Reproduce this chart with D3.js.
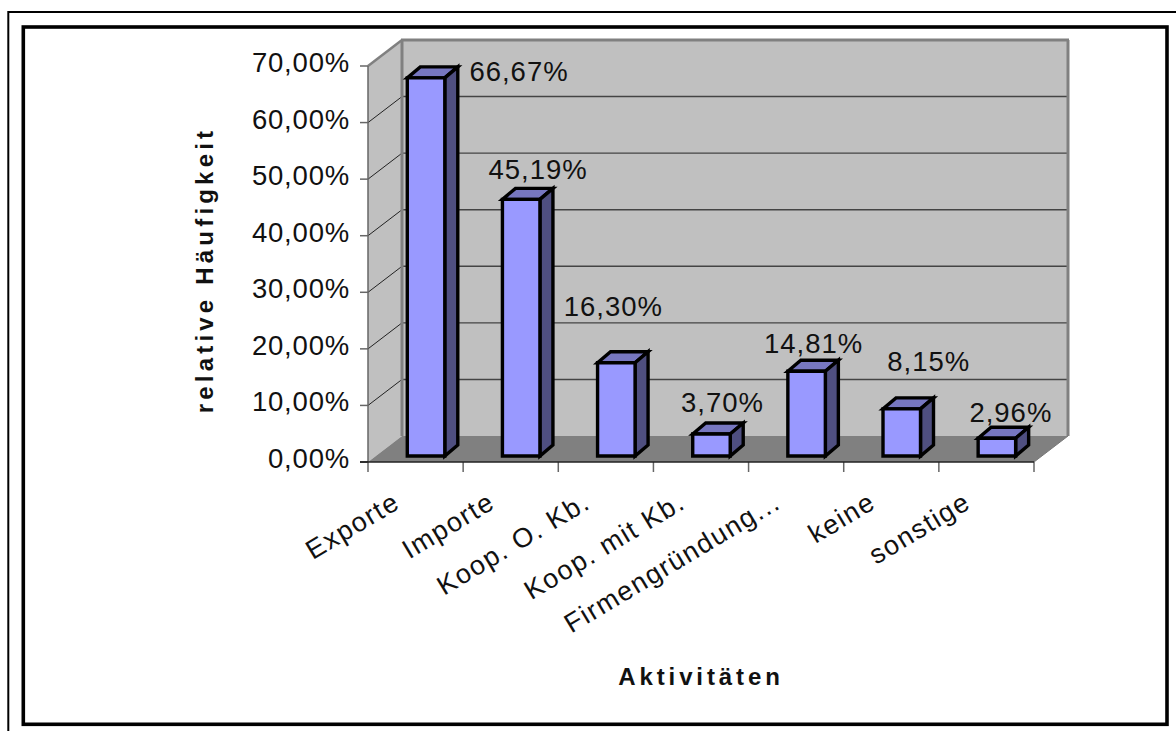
<!DOCTYPE html>
<html><head><meta charset="utf-8">
<script src="https://cdn.jsdelivr.net/npm/d3@7"></script>
<style>html,body{margin:0;background:#fff}svg{display:block}text{font-family:"Liberation Sans",Arial,sans-serif;fill:#111}</style>
</head><body><svg id="c" width="1176" height="731"></svg>
<script>
const categories=["Exporte","Importe","Koop. O. Kb.","Koop. mit Kb.","Firmengründung...","keine","sonstige"];
const values=[66.67,45.19,16.30,3.70,14.81,8.15,2.96];
const valueLabels=["66,67%","45,19%","16,30%","3,70%","14,81%","8,15%","2,96%"];
const yTicks=[0,10,20,30,40,50,60,70];
const yTickLabels=["0,00%","10,00%","20,00%","30,00%","40,00%","50,00%","60,00%","70,00%"];
const yTitle="relative Häufigkeit", xTitle="Aktivitäten";

const svg=d3.select("#c");
const L=368,R=1034,B=462,T=66,DX=34,DY=-26;
const x=d3.scaleBand().domain(categories).range([L,R]);
const y=d3.scaleLinear().domain([0,70]).range([B,T]);
const line=(a,b,c,d,col,w)=>svg.append("line").attr("x1",a).attr("y1",b).attr("x2",c).attr("y2",d).attr("stroke",col).attr("stroke-width",w);
const poly=(pts,fill,st,w)=>svg.append("polygon").attr("points",pts.map(p=>p.join(",")).join(" ")).attr("fill",fill).attr("stroke",st||"none").attr("stroke-width",w||0).attr("stroke-linejoin","miter");

// frames
line(8,12,1176,12,"#000",2); line(8.3,11,8.3,731,"#000",2);
svg.append("rect").attr("x",23.3).attr("y",27).attr("width",1143.7).attr("height",697.3).attr("fill","#fff").attr("stroke","#000").attr("stroke-width",3.6);

// walls
poly([[L,T],[L+DX,T+DY],[L+DX,B+DY],[L,B]],"#c0c0c0");
poly([[L+DX,T+DY],[R+DX,T+DY],[R+DX,B+DY],[L+DX,B+DY]],"#c0c0c0");
poly([[L,B],[L+DX,B+DY],[R+DX,B+DY],[R,B]],"#808080");
yTicks.forEach(v=>{ if(v>0&&v<70){
  line(L,y(v),L+DX,y(v)+DY,"#222",1);
  line(L+DX,y(v)+DY,R+DX,y(v)+DY,"#444",1.4);
}});
line(L+DX,T+DY,L+DX,B+DY,"#808080",3);
line(L+DX-1,T+DY,R+DX+1,T+DY,"#808080",3);
line(R+DX,T+DY,R+DX,B+DY,"#808080",3);
line(L,T,L+DX,T+DY,"#808080",2.5);
line(R,B,R+DX,B+DY,"#777",1);

// axes
line(L,T,L,B,"#666",1.5);
yTicks.forEach((v,i)=>{
  line(L-8,y(v),L,y(v),v===0?"#222":"#666",1.5);
  svg.append("text").attr("x",350).attr("y",y(v)+6).attr("text-anchor","end").attr("font-size",27.5).attr("letter-spacing",0.8).text(yTickLabels[i]);
});
const edges=[...categories.map(c=>x(c)),R];
edges.forEach(e=>line(e,B,e,B+10,"#666",1.5));
line(L-8,B,R,B,"#222",1.5);

// bars
const W=37.5,OX=x.bandwidth()*0.11,OY=-6,BX=13,BY=-11;
const lblDX=[93,17,-3,11,7,27,14];
const lblDY=[3,-20,-47,-22,-18,-38,-16];
categories.forEach((c,i)=>{
  const cx=x(c)+x.bandwidth()/2+OX, l=cx-W/2, r=cx+W/2, t=y(values[i])+OY-1, b=B+OY;
  poly([[l,t],[r,t],[r+BX,t+BY],[l+BX,t+BY]],"#7777c0","#000",3.4);
  poly([[r,t],[r+BX,t+BY],[r+BX,b+BY],[r,b]],"#4f4f80","#000",3.4);
  poly([[l,t],[r,t],[r,b],[l,b]],"#9999ff","#000",3.4);
  svg.append("text").attr("x",cx+lblDX[i]).attr("y",t+lblDY[i]).attr("text-anchor","middle")
    .attr("font-size",27.5).attr("letter-spacing",1).text(valueLabels[i]);
});

// category labels
categories.forEach(c=>{
  const px=x(c)+x.bandwidth()/2-14, py=B+45;
  svg.append("text").attr("transform",`translate(${px},${py}) rotate(-31)`).attr("text-anchor","end")
    .attr("font-size",27).attr("letter-spacing",1.5).text(c);
});

// titles
svg.append("text").attr("transform","translate(213,270) rotate(-90)").attr("text-anchor","middle").attr("font-size",24).attr("font-weight","bold").attr("letter-spacing",4.2).text(yTitle);
svg.append("text").attr("x",701).attr("y",685).attr("text-anchor","middle").attr("font-size",24).attr("font-weight","bold").attr("letter-spacing",3.9).text(xTitle);
</script></body></html>
